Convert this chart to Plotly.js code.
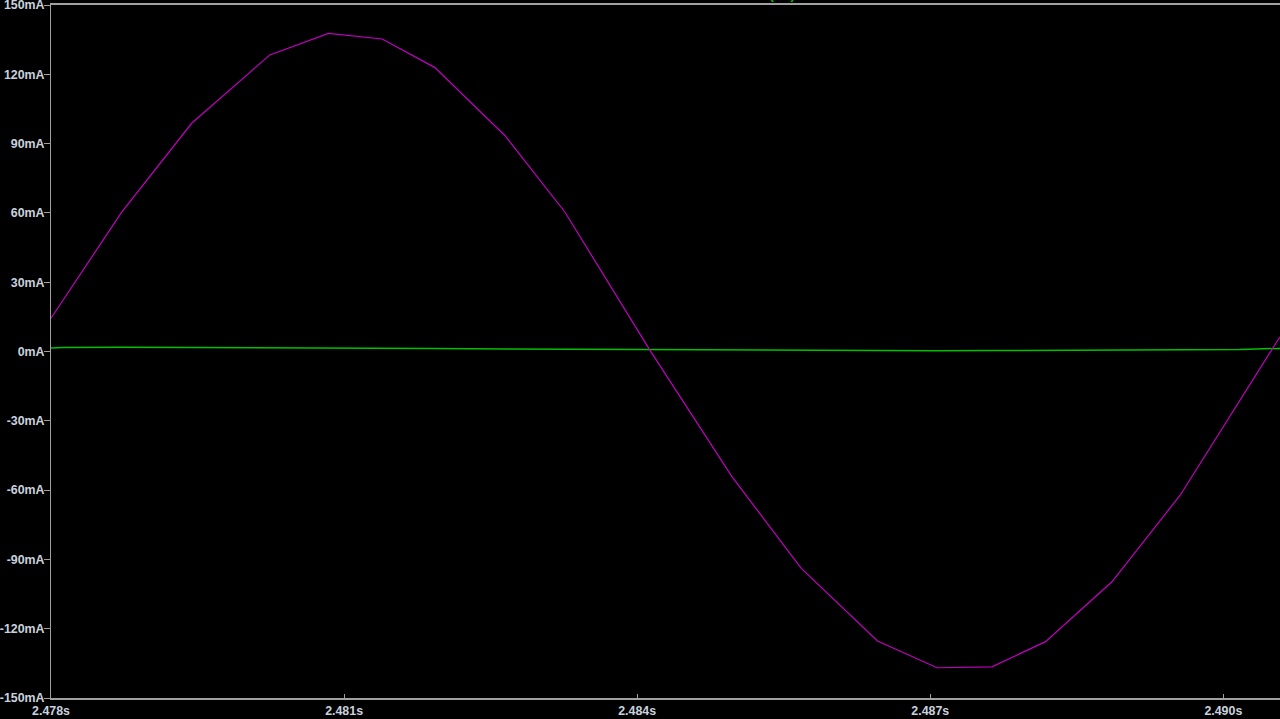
<!DOCTYPE html>
<html>
<head>
<meta charset="utf-8">
<script src="https://cdn.plot.ly/plotly-3.0.1.min.js"></script>
<style>
html,body{margin:0;padding:0;background:#000;overflow:hidden;}
#chart{width:1280px;height:719px;}
</style>
</head>
<body>
<div id="chart"></div>
<script>
// Magenta trace (current, mA) vs time (s)
const timeMagenta = [2.478, 2.47872, 2.47944, 2.48024, 2.48084, 2.48139, 2.48193, 2.48265, 2.48326, 2.48413, 2.48497, 2.48568, 2.48646, 2.48707, 2.48763, 2.48818, 2.48886, 2.48956, 2.49058];
const currentMagenta = [14.4, 60.1, 98.8, 128.4, 137.7, 135.3, 122.9, 93.3, 60.4, 0.6, -54.2, -93.9, -125.3, -136.9, -136.5, -125.6, -99.7, -62.1, 6.4];

// Green trace (current, mA) vs time (s)
const timeGreen = [2.478, 2.47812, 2.47872, 2.47944, 2.48024, 2.48084, 2.48139, 2.48193, 2.48265, 2.48326, 2.48413, 2.48497, 2.48568, 2.48646, 2.48707, 2.48763, 2.48818, 2.48886, 2.48956, 2.49017, 2.49041, 2.49058];
const currentGreen = [1.5, 1.7, 1.8, 1.7, 1.6, 1.7, 1.4, 1.3, 1.1, 1.0, 0.6, 0.4, 0.35, 0.35, 0.35, 0.4, 0.5, 0.65, 0.7, 0.9, 1.2, 1.3];

const xTickVals = [2.478, 2.481, 2.484, 2.487, 2.490];
const xTickText = ["2.478s", "2.481s", "2.484s", "2.487s", "2.490s"];
const yTickVals = [150, 120, 90, 60, 30, 0, -30, -60, -90, -120, -150];
const yTickText = ["150mA", "120mA", "90mA", "60mA", "30mA", "0mA", "-30mA", "-60mA", "-90mA", "-120mA", "-150mA"];

const traceLabel = "I(R1)";

const tickFont = {family: "Arial, 'Liberation Sans', sans-serif", size: 12.4, color: "#c8d2de", weight: "bold"};
const axisColor = "#a0a0a0";

const data = [
  {x: timeGreen, y: currentGreen, type: "scatter", mode: "lines",
   line: {color: "#00c000", width: 1.5, shape: "linear"}, hoverinfo: "skip"},
  {x: timeMagenta, y: currentMagenta, type: "scatter", mode: "lines",
   line: {color: "#c000c0", width: 1.2, shape: "linear"}, hoverinfo: "skip"}
];

const layout = {
  width: 1280, height: 719,
  paper_bgcolor: "#000", plot_bgcolor: "#000",
  showlegend: false,
  margin: {l: 51, r: 0, t: 5, b: 21, pad: 0},
  xaxis: {
    range: [2.478, 2.49058], tickvals: xTickVals, ticktext: xTickText,
    showgrid: false, zeroline: false, showline: true, mirror: true,
    linecolor: axisColor, linewidth: 2, ticks: "inside", ticklen: 4, tickcolor: axisColor,
    tickfont: tickFont, fixedrange: true, ticklabeloverflow: "allow"
  },
  yaxis: {
    range: [-150, 150], tickvals: yTickVals, ticktext: yTickText,
    showgrid: false, zeroline: false, showline: true, mirror: false,
    linecolor: axisColor, linewidth: 1, ticks: "outside", ticklen: 6, tickcolor: axisColor,
    tickfont: tickFont, fixedrange: true, ticklabeloverflow: "allow",
    ticklabelstandoff: -3
  },
  annotations: [
    {text: traceLabel, xref: "paper", yref: "paper", x: 0.5932, y: 1.0072,
     xanchor: "center", yanchor: "bottom", yshift: -4, showarrow: false,
     font: {family: "Arial, 'Liberation Sans', sans-serif", size: 13, color: "#00c000", weight: "bold"}}
  ]
};

Plotly.newPlot("chart", data, layout, {staticPlot: true, displayModeBar: false});
</script>
</body>
</html>
